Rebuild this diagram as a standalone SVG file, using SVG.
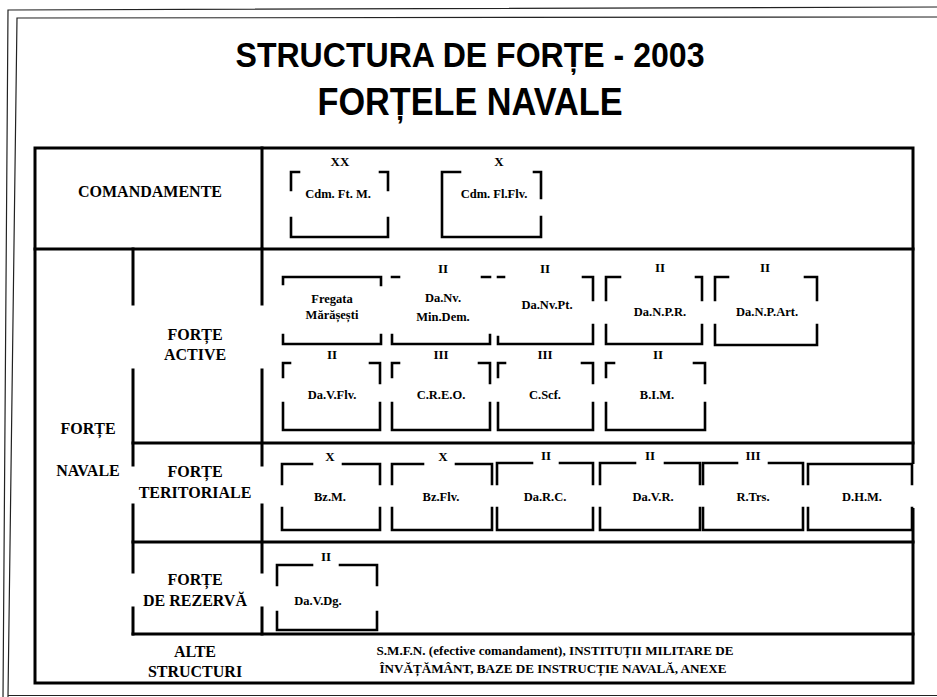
<svg xmlns="http://www.w3.org/2000/svg" width="937" height="697" viewBox="0 0 937 697">
<style>
.t{font-family:"Liberation Serif","Times New Roman",serif;font-weight:bold;fill:#000;text-anchor:middle}
.lbl{font-size:16px}
.bx{font-size:12.5px}
.rn{font-size:13px}
.ttl{font-family:"Liberation Sans",Arial,sans-serif;font-weight:bold;fill:#000;text-anchor:middle}
.ln{stroke:#000;stroke-width:3;fill:none;stroke-linecap:square}
.b{stroke:#000;stroke-width:2.6;fill:none;stroke-linecap:square;stroke-linejoin:miter}
.fr{stroke:#222;stroke-width:1.2;fill:none}
</style>
<rect width="937" height="697" fill="#fff"/>
<g id="frame">
<path class="fr" d="M937,7 L8,10 L3,697"/>
<path class="fr" d="M937,17 L17,18 L8,697"/>
<path class="fr" d="M8,695.5 H937"/>
</g>
<g id="title">
<text class="ttl" x="470" y="67" font-size="35" textLength="469" lengthAdjust="spacingAndGlyphs">STRUCTURA DE FORȚE - 2003</text>
<text class="ttl" x="470" y="115" font-size="38" textLength="305" lengthAdjust="spacingAndGlyphs">FORȚELE NAVALE</text>
</g>
<g id="connectors">
<rect class="ln" x="35" y="148" width="878" height="535"/>
<path class="ln" d="M35,249 H913 M262,148 V249"/>
<path class="ln" d="M133,443 H913 M133,542 H913 M133,634 H913"/>
<path class="ln" d="M133,249 V304 M133,370 V465 M133,505 V572 M133,608 V634"/>
<path class="ln" d="M262,249 V304 M262,370 V465 M262,505 V572 M262,608 V634"/>
<path d="M913,464 V508" stroke="#fff" stroke-width="5"/>
</g>
<g id="labels">
<text class="t lbl" x="150" y="197">COMANDAMENTE</text>
<text class="t lbl" x="195" y="340">FORȚE</text>
<text class="t lbl" x="195" y="360">ACTIVE</text>
<text class="t lbl" x="88" y="434" font-size="17">FORȚE</text>
<text class="t lbl" x="88" y="476" font-size="17">NAVALE</text>
<text class="t lbl" x="195" y="477">FORȚE</text>
<text class="t lbl" x="195" y="498">TERITORIALE</text>
<text class="t lbl" x="195" y="585">FORȚE</text>
<text class="t lbl" x="195" y="606">DE REZERVĂ</text>
<text class="t lbl" x="195" y="657">ALTE</text>
<text class="t lbl" x="195" y="677">STRUCTURI</text>
<text class="t" x="555" y="655" font-size="12.5" textLength="357" lengthAdjust="spacingAndGlyphs">S.M.F.N. (efective comandament), INSTITUȚII MILITARE DE</text>
<text class="t" x="553" y="673" font-size="12.5" textLength="347" lengthAdjust="spacingAndGlyphs">ÎNVĂȚĂMÂNT, BAZE DE INSTRUCȚIE NAVALĂ, ANEXE</text>
</g>
<g id="cdm-ft-m">
<path class="b" d="M291,190 V172 H299 M380,172 H388 V190 M291,218 V237 H388 V218"/>
<text class="t rn" x="340" y="166">XX</text>
<text class="t bx" x="338" y="198">Cdm. Ft. M.</text>
</g>
<g id="cdm-fl-flv">
<path class="b" d="M460,172 H442 V237 H541 V217 M534,172 H541 V198"/>
<text class="t rn" x="499" y="166">X</text>
<text class="t bx" x="494" y="198">Cdm. Fl.Flv.</text>
</g>
<g id="fregata">
<path class="b" d="M283,284 V277 H381 V285 M283,335 V344 H381 V335"/>
<text class="t bx" x="332" y="303" font-size="12">Fregata</text>
<text class="t bx" x="332" y="319" font-size="12">Mărășești</text>
</g>
<g id="da-nv-min-dem">
<path class="b" d="M392,277 H399 M482,277 H490 M392,335 V344 H490 V335"/>
<text class="t rn" x="443" y="273">II</text>
<text class="t bx" x="443" y="302">Da.Nv.</text>
<text class="t bx" x="443" y="321">Min.Dem.</text>
</g>
<g id="da-nv-pt">
<path class="b" d="M498,277 H504 M583,277 H593 V300 M498,337 V344 H593 V325"/>
<text class="t rn" x="545" y="273">II</text>
<text class="t bx" x="547" y="309">Da.Nv.Pt.</text>
</g>
<g id="da-n-p-r">
<path class="b" d="M606,300 V277 H620 M696,277 H702 V300 M606,325 V344 H702 V325"/>
<text class="t rn" x="660" y="272">II</text>
<text class="t bx" x="660" y="316">Da.N.P.R.</text>
</g>
<g id="da-n-p-art">
<path class="b" d="M715,300 V277 H728 M805,277 H817 V300 M715,325 V345 H817 V325"/>
<text class="t rn" x="765" y="272">II</text>
<text class="t bx" x="767" y="316">Da.N.P.Art.</text>
</g>
<g id="da-v-flv">
<path class="b" d="M283,377 V363 H290 M370,363 H380 V383 M283,403 V430 H380 V403"/>
<text class="t rn" x="332" y="359">II</text>
<text class="t bx" x="332" y="399">Da.V.Flv.</text>
</g>
<g id="c-r-e-o">
<path class="b" d="M392,377 V363 H399 M479,363 H490 V383 M392,403 V430 H490 V403"/>
<text class="t rn" x="441" y="359">III</text>
<text class="t bx" x="441" y="399">C.R.E.O.</text>
</g>
<g id="c-scf">
<path class="b" d="M498,377 V363 H505 M582,363 H593 V383 M498,403 V430 H593 V403"/>
<text class="t rn" x="545" y="359">III</text>
<text class="t bx" x="545" y="399">C.Scf.</text>
</g>
<g id="b-i-m">
<path class="b" d="M606,377 V363 H614 M694,363 H705 V383 M606,403 V430 H705 V403"/>
<text class="t rn" x="658" y="359">II</text>
<text class="t bx" x="657" y="399">B.I.M.</text>
</g>
<g id="bz-m">
<path class="b" d="M282,484 V464 H312 M343,464 H380 V484 M282,508 V530 H380 V508"/>
<text class="t rn" x="330" y="461">X</text>
<text class="t bx" x="330" y="501">Bz.M.</text>
</g>
<g id="bz-flv">
<path class="b" d="M392,484 V464 H423 M456,464 H492 V484 M392,508 V530 H492 V508"/>
<text class="t rn" x="443" y="461">X</text>
<text class="t bx" x="441" y="501">Bz.Flv.</text>
</g>
<g id="da-r-c">
<path class="b" d="M497,484 V463 H532 M560,463 H593 V484 M497,508 V530 H593 V508"/>
<text class="t rn" x="546" y="460">II</text>
<text class="t bx" x="545" y="501">Da.R.C.</text>
</g>
<g id="da-v-r">
<path class="b" d="M600,484 V463 H635 M665,463 H700 V484 M600,508 V530 H700 V508"/>
<text class="t rn" x="650" y="460">II</text>
<text class="t bx" x="653" y="501">Da.V.R.</text>
</g>
<g id="r-trs">
<path class="b" d="M703,484 V463 H737 M769,463 H803 V484 M703,508 V530 H803 V508"/>
<text class="t rn" x="753" y="460">III</text>
<text class="t bx" x="753" y="501">R.Trs.</text>
</g>
<g id="d-h-m">
<path class="b" d="M808,484 V464 H912 V484 M808,508 V530 H912 V508"/>
<text class="t bx" x="862" y="501">D.H.M.</text>
</g>
<g id="da-v-dg">
<path class="b" d="M277,585 V565 H312 M340,565 H377 V585 M277,612 V630 H377 V612"/>
<text class="t rn" x="326" y="561">II</text>
<text class="t bx" x="318" y="605">Da.V.Dg.</text>
</g>
</svg>
